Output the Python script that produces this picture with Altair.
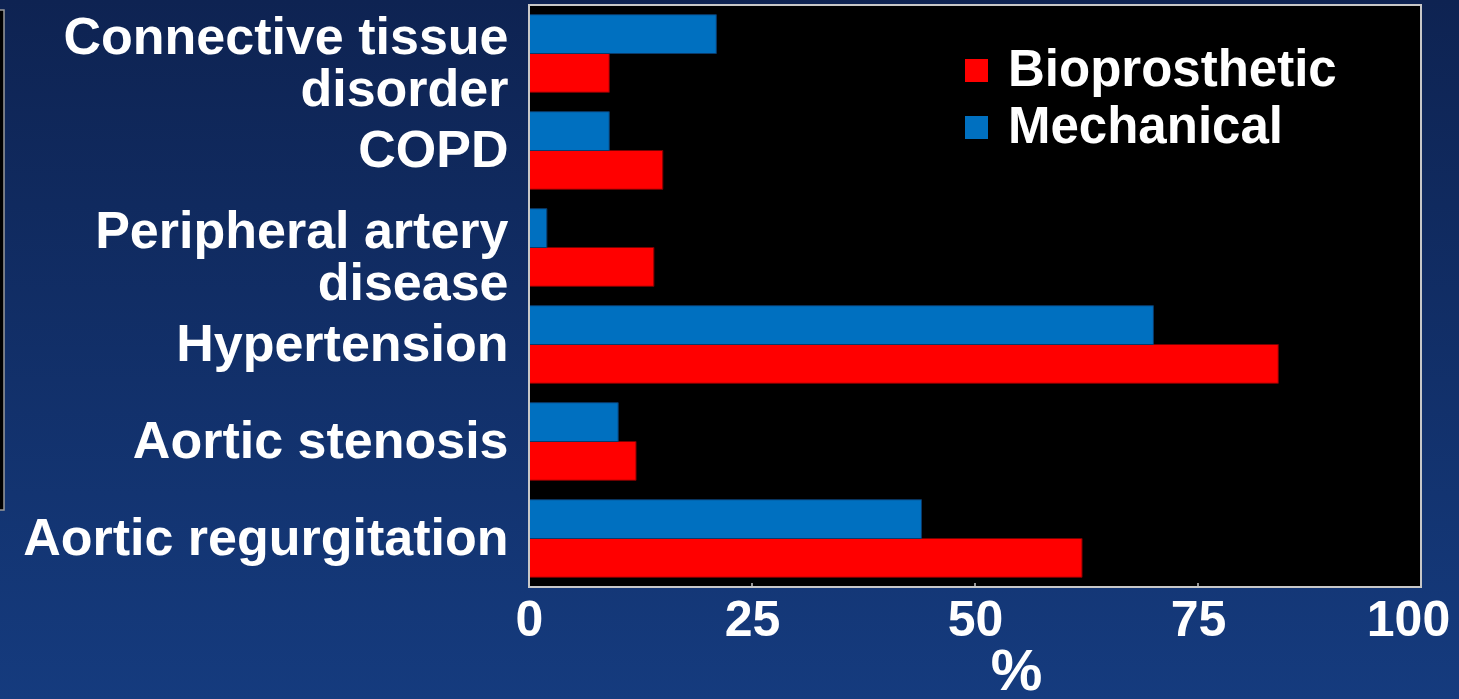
import altair as alt
import pandas as pd

# Comorbidities by valve type (% of patients)
conditions = [
    "Connective tissue\ndisorder",
    "COPD",
    "Peripheral artery\ndisease",
    "Hypertension",
    "Aortic stenosis",
    "Aortic regurgitation",
]
bioprosthetic = [9, 15, 14, 84, 12, 62]
mechanical = [21, 9, 2, 70, 10, 44]
series = ["Bioprosthetic", "Mechanical"]
series_colors = ["#ff0000", "#0070c0"]
series_strokes = ["#7a0000", "#0a3a6a"]
x_ticks = [0, 25, 50, 75, 100]

rows = []
for cond, b, m in zip(conditions, bioprosthetic, mechanical):
    rows.append({"condition": cond, "valve": "Bioprosthetic", "pct": b})
    rows.append({"condition": cond, "valve": "Mechanical", "pct": m})
df = pd.DataFrame(rows)

W, H = 892, 582
PAD = {"left": 529, "top": 5, "right": 38, "bottom": 112}
FONT = "Liberation Sans"
LINE_H = 52

x_scale = alt.Scale(domain=[0, 100], nice=False, zero=True)

# Slide background: vertical navy gradient over the whole canvas
backdrop = alt.Chart(alt.Data(values=[{}])).mark_rect(
    fill=alt.Gradient(
        gradient="linear", x1=0, y1=0, x2=0, y2=1,
        stops=[alt.GradientStop(offset=0, color="#0e2352"),
               alt.GradientStop(offset=1, color="#153b7e")],
    ),
).encode(
    x=alt.value(-PAD["left"]), x2=alt.value(W + PAD["right"]),
    y=alt.value(-PAD["top"]), y2=alt.value(H + PAD["bottom"]),
)

# Edge of a neighbouring slide box at the far left
side_box = alt.Chart(alt.Data(values=[{}])).mark_rect(
    fill="#000000", stroke="#9a9a9a", strokeWidth=1.5,
).encode(
    x=alt.value(-PAD["left"] - 6), x2=alt.value(-PAD["left"] + 4),
    y=alt.value(5), y2=alt.value(505),
)

# Black plotting area
plot_bg = alt.Chart(alt.Data(values=[{}])).mark_rect(fill="#000000").encode(
    x=alt.value(0), x2=alt.value(W), y=alt.value(0), y2=alt.value(H),
)

bars = alt.Chart(df).mark_bar(strokeWidth=1).encode(
    y=alt.Y(
        "condition:N",
        sort=conditions,
        scale=alt.Scale(paddingInner=0.2, paddingOuter=0.1),
        axis=alt.Axis(
            title=None,
            labelExpr="split(datum.label, '\\n')",
            # two-line labels are lifted so the block sits on the band centre
            labelOffset={
                "condition": {"test": "indexof(datum.value, '\\n') >= 0",
                              "value": -16},
                "value": 0,
            },
            labelFont=FONT, labelFontWeight="bold", labelFontSize=52,
            labelColor="#ffffff", labelLineHeight=LINE_H,
            labelPadding=21, ticks=False, tickSize=0, domain=False,
            grid=False, labelLimit=600, labelAlign="right", zindex=2,
        ),
    ),
    yOffset=alt.YOffset("valve:N", sort=["Mechanical", "Bioprosthetic"],
                        scale=alt.Scale(paddingInner=0, paddingOuter=0)),
    x=alt.X(
        "pct:Q",
        scale=x_scale,
        axis=alt.Axis(
            title="%", values=x_ticks, format="d",
            labelFont=FONT, labelFontWeight="bold", labelFontSize=50,
            labelColor="#ffffff", labelPadding=8, ticks=False, tickSize=0,
            labelFlush=False, labelOverlap=False,
            # keep the last label inside the canvas
            labelOffset={
                "condition": {"test": "datum.value == 100", "value": -13},
                "value": 0,
            },
            domain=False, grid=False, zindex=2,
            titleFont=FONT, titleFontWeight="bold", titleFontSize=58,
            titleColor="#ffffff", titleX=487, titleY=56,
            titleBaseline="top", titleAlign="center",
        ),
    ),
    color=alt.Color(
        "valve:N",
        scale=alt.Scale(domain=series, range=series_colors),
        legend=alt.Legend(
            title=None, orient="none", legendX=422, legendY=40,
            symbolType="square", symbolSize=529, symbolStrokeWidth=0,
            labelFont=FONT, labelFontWeight="bold", labelFontSize=51,
            labelColor="#ffffff", labelOffset=6, rowPadding=5,
            labelLimit=500,
        ),
    ),
    stroke=alt.Stroke(
        "valve:N",
        scale=alt.Scale(domain=series, range=series_strokes),
        legend=None,
    ),
)

# Small inward tick marks on the value axis
ticks = alt.Chart(pd.DataFrame({"t": x_ticks})).mark_rule(
    color="#c8c8c8", strokeWidth=1.5,
).encode(
    x=alt.X("t:Q", scale=x_scale),
    y=alt.value(H - 4), y2=alt.value(H),
)

# Light frame around the plotting area
frame = alt.Chart(alt.Data(values=[{}])).mark_rect(
    fill=None, stroke="#c8c8c8", strokeWidth=2,
).encode(
    x=alt.value(0), x2=alt.value(W), y=alt.value(0), y2=alt.value(H),
)

chart = alt.layer(backdrop, side_box, plot_bg, bars, ticks, frame).properties(
    width=W, height=H,
    autosize=alt.AutoSizeParams(type="none"),
    padding=PAD,
    background="#0e2352",
).configure_view(stroke=None, fill=None)

chart.save("out.html", embed_options={"renderer": "svg", "actions": False})
